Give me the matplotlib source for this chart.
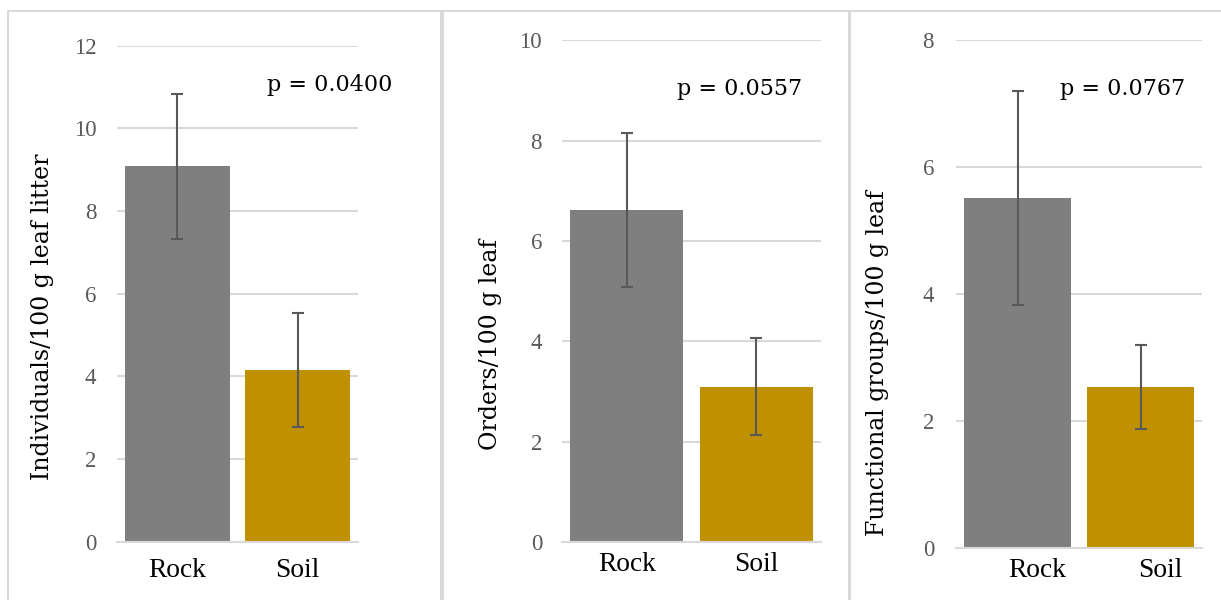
import matplotlib
matplotlib.use("Agg")
import matplotlib.pyplot as plt
from matplotlib.patches import Rectangle
from matplotlib.transforms import ScaledTranslation

# Data
categories = ["Rock", "Soil"]
individuals = [9.08, 4.15]
individuals_err = [1.76, 1.38]
orders = [6.62, 3.10]
orders_err = [1.54, 0.97]
groups = [5.51, 2.53]
groups_err = [1.69, 0.66]
p_values = ["p = 0.0400", "p = 0.0557", "p = 0.0767"]
y_labels = ["Individuals/100 g leaf litter", "Orders/100 g leaf",
            "Functional groups/100 g leaf"]
y_max = [12, 10, 8]

bar_colors = ["#7f7f7f", "#bf9000"]
grid_color = "#d9d9d9"
err_color = "#595959"

W, H = 1221, 600
fig = plt.figure(figsize=(W / 100, H / 100), dpi=100)


def px_box(x0, y0, x1, y1):
    """Figure-fraction rectangle from pixel coordinates (origin top-left)."""
    return [x0 / W, 1 - y1 / H, (x1 - x0) / W, (y1 - y0) / H]


# Panel frames
for x0, x1 in [(8, 441), (443, 849), (850, 1240)]:
    fig.patches.append(Rectangle((x0 / W, -0.05), (x1 - x0) / W, 1 - 11 / H + 0.05,
                                 transform=fig.transFigure, fill=False,
                                 edgecolor=grid_color, linewidth=1.5))

axes_px = [(117, 45.7, 358, 541.7), (562, 40.1, 821, 542.4), (956, 40.1, 1202, 547.7)]
values = [individuals, orders, groups]
errors = [individuals_err, orders_err, groups_err]
p_pos = [(0.884, 0.909), (0.685, 0.890), (0.677, 0.891)]
label_px = [(43, 317), (490, 344), (878, 363)]
xtick_shift = [0, 0, 20]
xtick_pad = [11.5, 7.2, 7.4]
ytick_pad = [14.8, 14.4, 15.8]

for i in range(3):
    ax = fig.add_axes(px_box(*axes_px[i]))
    x = range(len(categories))
    ax.bar(x, values[i], width=0.87, color=bar_colors, zorder=2)
    ax.errorbar(x, values[i], yerr=errors[i], fmt="none", ecolor=err_color,
                elinewidth=1.5, capsize=4.2, capthick=1.5, zorder=3)
    ax.set_xlim(-0.5, 1.5)
    ax.set_ylim(0, y_max[i])
    ax.set_yticks(range(0, y_max[i] + 1, 2))
    ax.set_xticks(list(x))
    ax.set_xticklabels(categories, family="Liberation Serif", fontsize=19.8,
                       color="black")
    for t in ax.get_yticklabels():
        t.set_family("Liberation Serif")
        t.set_fontsize(16.5)
        t.set_color("#595959")
    ax.tick_params(axis="both", length=0)
    ax.tick_params(axis="y", pad=ytick_pad[i])
    ax.tick_params(axis="x", pad=xtick_pad[i])
    if xtick_shift[i]:
        off = ScaledTranslation(xtick_shift[i] / 100, 0, fig.dpi_scale_trans)
        for t in ax.get_xticklabels():
            t.set_transform(t.get_transform() + off)
    ax.grid(axis="y", color=grid_color, linewidth=1.5, zorder=0)
    for s in ["top", "right", "left"]:
        ax.spines[s].set_visible(False)
    ax.spines["bottom"].set_color(grid_color)
    ax.spines["bottom"].set_linewidth(1.5)
    ax.text(p_pos[i][0], p_pos[i][1], p_values[i], transform=ax.transAxes,
            ha="center", va="baseline", family="DejaVu Serif", fontsize=16,
            color="black")
    lx, ly = label_px[i]
    fig.text(lx / W, 1 - ly / H, y_labels[i], rotation=90, ha="center",
             va="center", family="DejaVu Serif", fontsize=17,
             color="black")

fig.savefig("out.png", dpi=100)
